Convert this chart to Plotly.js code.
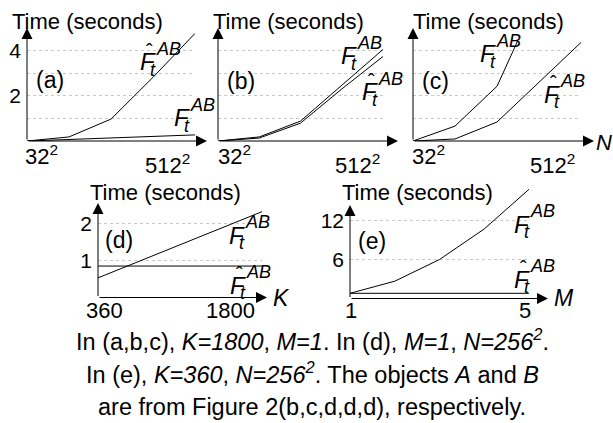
<!DOCTYPE html>
<html>
<head>
<meta charset="utf-8">
<script src="https://cdn.plot.ly/plotly-3.0.1.min.js"></script>
<style>
  html, body { margin: 0; padding: 0; background: #fff; }
  #myDiv { width: 613px; height: 423px; }
</style>
</head>
<body>
<div id="myDiv"></div>
<script>
// image side length N = side^2 for panels (a), (b), (c)
var sides = [32, 64, 128, 256, 512];
var aFhat = [0, 0.18, 0.97, 2.82, 4.76];
var aF    = [0, 0.07, 0.14, 0.20, 0.27];
var bF    = [0, 0.18, 0.88, 2.47, 4.05];
var bFhat = [0, 0.13, 0.79, 2.30, 3.74];
var cF    = [0, 0.66, 2.42, 6.5, null];
var cFhat = [0, 0.09, 0.84, 2.60, 4.36];
// panel (d): K
var kVals = [360, 1800];
var dF    = [0.53, 2.32];
var dFhat = [0.85, 0.85];
// panel (e): M
var mVals = [1, 2, 3, 4, 5];
var eF    = [0.8, 2.66, 6.0, 10.7, 16.8];
var eFhat = [0.8, 0.8, 0.8, 0.8, 0.8];

var W = 613, H = 423;
function px(x) { return x / W; }
function py(y) { return 1 - y / H; }

function line(x, y, xa, ya) {
  return {x: x, y: y, xaxis: xa, yaxis: ya, type: 'scatter', mode: 'lines',
    line: {color: '#000', width: 1}, hoverinfo: 'skip'};
}

var data = [
  line(sides, aFhat, 'x', 'y'),
  line(sides, aF, 'x', 'y'),
  line(sides, bF, 'x2', 'y2'),
  line(sides, bFhat, 'x2', 'y2'),
  line(sides, cF, 'x3', 'y3'),
  line(sides, cFhat, 'x3', 'y3'),
  line(kVals, dF, 'x4', 'y4'),
  line(kVals, dFhat, 'x4', 'y4'),
  line(mVals, eF, 'x5', 'y5'),
  line(mVals, eFhat, 'x5', 'y5')
];

function note(x, y, text, size, xanchor) {
  return {xref: 'paper', yref: 'paper', x: px(x), y: py(y), text: text,
    showarrow: false, xanchor: xanchor || 'left', yanchor: 'middle',
    font: {size: size}};
}

function arrow(x, y, ax, ay) {
  return {xref: 'paper', yref: 'paper', x: px(x), y: py(y), ax: ax, ay: ay,
    axref: 'pixel', ayref: 'pixel', text: '', showarrow: true,
    arrowhead: 2, arrowsize: 2.2, arrowwidth: 1, arrowcolor: '#000',
    standoff: 0, startstandoff: 0};
}

// F_t^AB label, x = left of F, b = baseline of F
function fLabel(x, b, hat) {
  var out = [
    note(x, b - 8, '<i>F</i>', 24),
    note(x + 10, b, '<i>t</i>', 18),
    note(x + 16, b - 21, '<i>AB</i>', 18)
  ];
  if (hat) out.push(note(x + 11, b - 19, 'ˆ', 20, 'center'));
  return out;
}

function xlab(x, y, text) { return note(x, y, text, 22); }

var ann = [
  // axes
  arrow(207, 141, -180, 0), arrow(27, 28, 0, 113),
  arrow(398, 141, -180, 0), arrow(218, 28, 0, 113),
  arrow(594, 141, -181, 0), arrow(413, 28, 0, 113),
  arrow(267, 297.5, -169, 0), arrow(98, 203, 0, 94.5),
  arrow(548, 298.5, -198, 0), arrow(350, 205, 0, 93.5),
  // y titles
  note(10, 22, 'Time (seconds)', 22), note(211, 22, 'Time (seconds)', 22),
  note(411, 22, 'Time (seconds)', 22), note(88, 192, 'Time (seconds)', 22),
  note(340, 192, 'Time (seconds)', 22),
  // panel tags
  note(34, 80, '(a)', 23), note(225, 81, '(b)', 23), note(420, 81, '(c)', 23),
  note(103, 240, '(d)', 23), note(356, 241, '(e)', 23),
  // x tick labels
  xlab(23, 155, '32<sup>2</sup>'), xlab(143, 164, '512<sup>2</sup>'),
  xlab(216, 155, '32<sup>2</sup>'), xlab(333, 164, '512<sup>2</sup>'),
  xlab(410, 155, '32<sup>2</sup>'), xlab(528, 164, '512<sup>2</sup>'),
  note(104, 310, '360', 22, 'center'), note(230, 310, '1800', 22, 'center'),
  note(351, 310, '1', 22, 'center'), note(525, 310, '5', 22, 'center'),
  // axis names
  note(594, 142, '<i>N</i>', 22), note(271, 298, '<i>K</i>', 23), note(552, 298, '<i>M</i>', 23),
  // caption
  note(312, 340, 'In (a,b,c), <i>K=1800</i>, <i>M=1</i>. In (d), <i>M=1</i>, <i>N=256<sup>2</sup></i>.', 23.5, 'center'),
  note(312, 373, 'In (e), <i>K=360</i>, <i>N=256<sup>2</sup></i>. The objects <i>A</i> and <i>B</i>', 23.5, 'center'),
  note(312, 407, 'are from Figure 2(b,c,d,d,d), respectively.', 23.5, 'center')
];

ann = ann.concat(
  fLabel(138, 70, true), fLabel(172, 126, false),
  fLabel(339, 64, false), fLabel(360, 100, true),
  fLabel(478, 62, false), fLabel(542, 102, true),
  fLabel(227, 243, false), fLabel(228, 293, true),
  fLabel(512, 232, false), fLabel(512, 287, true)
);

var xHidden = {showgrid: false, zeroline: false, showline: false, showticklabels: false, ticks: ''};
function xax(dom, range, type) {
  return Object.assign({}, xHidden, {domain: dom, range: range, type: type || 'linear'});
}
function yax(dom, range, vals, text, anchor) {
  return {domain: dom, range: range, anchor: anchor, zeroline: false, showline: false,
    ticks: '', tickvals: vals, ticktext: text, showticklabels: !!text,
    ticklabelstandoff: 5, tickfont: {size: 21},
    showgrid: true, gridcolor: '#c8c8c8', gridwidth: 1, griddash: 'dot'};
}

var logR = [Math.log10(32), Math.log10(512)];
var layout = {
  width: 613, height: 423,
  margin: {l: 0, r: 0, t: 0, b: 0},
  paper_bgcolor: '#fff', plot_bgcolor: 'rgba(0,0,0,0)',
  showlegend: false,
  font: {family: '"Liberation Sans", Arial, sans-serif', color: '#000'},
  xaxis:  Object.assign(xax([px(27), px(195)], logR, 'log'), {anchor: 'y'}),
  yaxis:  yax([py(141), py(30)], [0, 111 / 22.6], [1, 2, 3, 4], ['', '2', '', '4'], 'x'),
  xaxis2: Object.assign(xax([px(218), px(383)], logR, 'log'), {anchor: 'y2'}),
  yaxis2: yax([py(141), py(30)], [0, 111 / 22.6], [1, 2, 3, 4], null, 'x2'),
  xaxis3: Object.assign(xax([px(413), px(581)], logR, 'log'), {anchor: 'y3'}),
  yaxis3: yax([py(141), py(41)], [0, 100 / 22.6], [1, 2, 3, 4], null, 'x3'),
  xaxis4: Object.assign(xax([px(98), px(262)], [360, 1800]), {anchor: 'y4'}),
  yaxis4: yax([py(297.5), py(205)], [0, 92.5 / 37], [1, 2], ['1', '2'], 'x4'),
  xaxis5: Object.assign(xax([px(350), px(529)], [1, 5]), {anchor: 'y5'}),
  yaxis5: yax([py(298.5), py(188)], [0, 110.5 / 6.5], [6, 12], ['6', '12'], 'x5'),
  annotations: ann
};

Plotly.newPlot('myDiv', data, layout, {staticPlot: true});
</script>
</body>
</html>
